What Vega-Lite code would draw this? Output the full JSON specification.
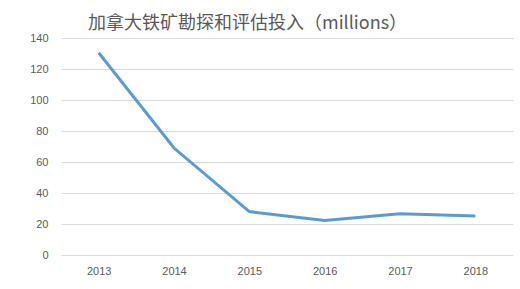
{
  "$schema": "https://vega.github.io/schema/vega-lite/v6.json",
  "autosize": "none",
  "width": 452,
  "height": 217,
  "padding": {"left": 61, "top": 38, "right": 7, "bottom": 34},
  "background": "white",
  "title": {
    "text": "加拿大铁矿勘探和评估投入（millions）",
    "anchor": "start",
    "frame": "group",
    "dx": 27,
    "offset": -1,
    "fontSize": 18,
    "fontWeight": "normal",
    "color": "#595959",
    "font": "Noto Sans CJK SC"
  },
  "data": {
    "values": [
      {"year": "2013", "value": 130.5},
      {"year": "2014", "value": 69},
      {"year": "2015", "value": 28},
      {"year": "2016", "value": 22.3},
      {"year": "2017", "value": 26.6},
      {"year": "2018", "value": 25.2}
    ]
  },
  "mark": {"type": "line", "color": "#5b9bd5", "strokeWidth": 3},
  "encoding": {
    "x": {
      "field": "year",
      "type": "ordinal",
      "scale": {"type": "point", "padding": 0.5},
      "axis": {"title": null, "labelAngle": 0, "domain": false, "ticks": false, "grid": false, "labelPadding": 10, "labelFontSize": 11, "labelColor": "#595959", "labelFont": "Liberation Sans"}
    },
    "y": {
      "field": "value",
      "type": "quantitative",
      "scale": {"domain": [0, 140], "nice": false},
      "axis": {"title": null, "values": [0, 20, 40, 60, 80, 100, 120, 140], "domain": false, "ticks": false, "gridColor": "#d9d9d9", "labelPadding": 13, "labelFontSize": 11, "labelColor": "#595959", "labelFont": "Liberation Sans"}
    }
  },
  "config": {"view": {"stroke": null}}
}
